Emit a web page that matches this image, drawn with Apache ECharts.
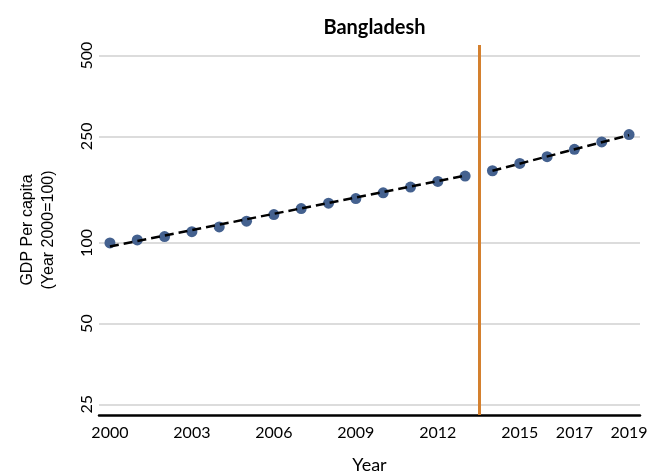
<!DOCTYPE html>
<html>
<head>
<meta charset="utf-8">
<script src="https://cdn.jsdelivr.net/npm/echarts@6/dist/echarts.min.js"></script>
<style>
  html, body { margin: 0; padding: 0; background: #fff; }
  #chart { width: 660px; height: 473px; }
</style>
</head>
<body>
<div id="chart"></div>
<script>
// GDP per capita index, Bangladesh (2000 = 100)
const years = [2000, 2001, 2002, 2003, 2004, 2005, 2006, 2007, 2008, 2009,
               2010, 2011, 2012, 2013, 2014, 2015, 2016, 2017, 2018, 2019];
const gdpIndex = [100, 102.6, 105.6, 110.2, 114.8, 120.6, 127.6, 134.4, 140.8, 146.5,
                  153.9, 161.6, 169.6, 177.7, 186.0, 198.1, 209.9, 223.6, 238.3, 253.8];

// Trend segments before and after the break year
const trendBefore = [[2000, 97.0], [2013, 178.3]];
const trendAfter = [[2014, 186.0], [2019, 252.6]];
const breakYear = 2013.5;

// Axis ticks
const xTickYears = [2000, 2003, 2006, 2009, 2012, 2015, 2017, 2019];
const yTickValues = [25, 50, 100, 250, 500];

const labelFont = 'Lato, "Open Sans", sans-serif';

const chart = echarts.init(document.getElementById('chart'), null, { renderer: 'canvas' });

chart.setOption({
  animation: false,
  backgroundColor: '#ffffff',
  title: {
    text: 'Bangladesh',
    left: 369.5,
    textAlign: 'center',
    top: 13,
    textStyle: { fontFamily: labelFont, fontWeight: 'bold', fontSize: 20, color: '#000' }
  },
  grid: { left: 99, right: 20, top: 45, bottom: 58, outerBoundsMode: 'none', containLabel: false },
  xAxis: {
    type: 'value',
    min: 1999.6,
    max: 2019.4,
    name: 'Year',
    nameLocation: 'middle',
    nameGap: 41,
    nameTextStyle: { fontFamily: labelFont, fontSize: 18, color: '#000' },
    axisLine: { show: true, onZero: false, lineStyle: { color: '#000', width: 2.5 } },
    axisTick: { show: false, customValues: xTickYears },
    splitLine: { show: false },
    axisLabel: {
      customValues: xTickYears,
      margin: 10,
      fontFamily: labelFont,
      fontSize: 16,
      color: '#000',
      formatter: v => String(v)
    }
  },
  yAxis: {
    type: 'log',
    logBase: 10,
    min: 22.8,
    max: 548,
    name: 'GDP Per capita\n(Year 2000=100)',
    nameLocation: 'middle',
    nameGap: 40,
    nameTextStyle: {
      fontFamily: '"Liberation Sans", Arial, sans-serif',
      fontSize: 16,
      lineHeight: 21,
      color: '#000'
    },
    axisLine: { show: false },
    axisTick: { show: false, customValues: yTickValues },
    splitLine: { show: true, lineStyle: { color: '#d0d0d0', width: 1.5 } },
    axisLabel: {
      customValues: yTickValues,
      rotate: 90,
      margin: 4,
      fontFamily: labelFont,
      fontSize: 16,
      color: '#000',
      formatter: v => String(Math.round(v))
    }
  },
  series: [
    {
      type: 'line',
      name: 'trend-before',
      data: trendBefore,
      symbol: 'none',
      lineStyle: { color: '#000', width: 2.5, type: [9, 5] },
      z: 3,
      silent: true
    },
    {
      type: 'line',
      name: 'trend-after',
      data: trendAfter,
      symbol: 'none',
      lineStyle: { color: '#000', width: 2.5, type: [9, 5] },
      z: 3,
      silent: true
    },
    {
      type: 'scatter',
      name: 'GDP per capita',
      data: years.map((y, i) => [y, gdpIndex[i]]),
      symbol: 'circle',
      symbolSize: 11,
      itemStyle: { color: '#44618f', opacity: 1 },
      z: 2,
      markLine: {
        silent: true,
        symbol: 'none',
        label: { show: false },
        lineStyle: { color: '#d4802e', width: 3, type: 'solid' },
        data: [{ xAxis: breakYear }]
      }
    }
  ]
});
</script>
</body>
</html>
